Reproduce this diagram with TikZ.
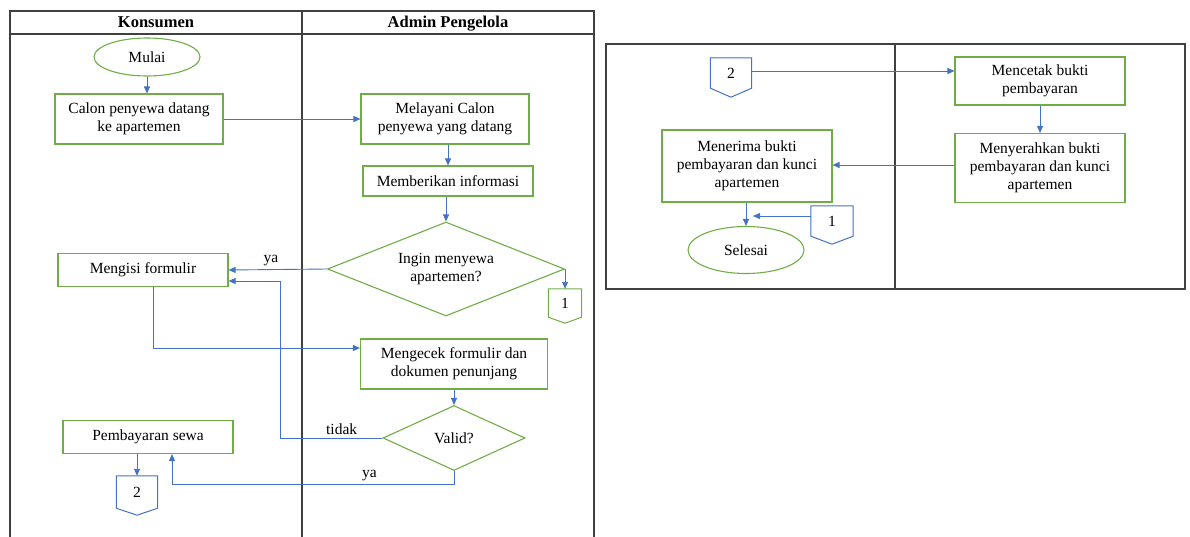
\documentclass[tikz,border=0pt]{standalone}
\usepackage{fontspec}
\setmainfont{Liberation Serif}
\usepackage{tikz}
\usetikzlibrary{calc}
\usetikzlibrary{arrows.meta}
\usetikzlibrary{shapes.geometric}

\definecolor{boxgreen}{RGB}{112,173,71}
\definecolor{arrowblue}{RGB}{68,114,196}
\definecolor{framegray}{RGB}{64,64,64}

\tikzset{
	lane/.style = {draw = framegray, line width = 1.3pt},
	head/.style = {inner sep = 0pt, anchor = base, font = \fontsize{16.5}{18}\selectfont\bfseries},
	proc/.style = {draw = boxgreen, line width = 1.1pt, align = center, inner sep = 0pt, font = \fontsize{15.5}{18}\selectfont},
	term/.style = {proc, shape = ellipse},
	decide/.style = {proc, shape = diamond},
	offpage/.style = {inner sep = 0pt, font = \fontsize{15.5}{18}\selectfont},
	flow/.style = {draw = arrowblue, line width = 0.9pt, -{Triangle[length = 7pt, width = 6pt]}},
	lbl/.style = {font = \fontsize{15.5}{18}\selectfont, inner sep = 0pt}
}

% off-page connector: box part is the node, point below
\newcommand{\drawoffpage}[3]{\draw[#2, line width = 1pt] (#1.north west)--(#1.north east)--(#1.south east)--($(#1.south)+(0, #3)$)--(#1.south west)--cycle;}

\begin{document}
\begin{tikzpicture}[x = 1pt, y = -1pt]
				\useasboundingbox (0, 0) rectangle (1190, 537);

				% left frame
				\draw[lane] (10, 540)--(10, 11)--(594, 11)--(594, 540);
				\draw[lane] (10, 34)--(594, 34);
				\draw[lane] (302, 11)--(302, 540);
				\node[head] (hkons) at (156, 28){Konsumen};
				\node[head] (hadmin) at (448, 28){Admin Pengelola};

				% right frame
				\draw[lane] (606, 44) rectangle (1185, 289);
				\draw[lane] (895, 44)--(895, 289);

				% left part nodes
				\node[term, minimum width = 106, minimum height = 38] (mulai) at (147, 57){Mulai};
				\node[proc, minimum width = 168, minimum height = 50] (calon) at (139, 119){Calon penyewa datang\\ke apartemen};
				\node[proc, minimum width = 168, minimum height = 50] (melayani) at (445, 119){Melayani Calon\\penyewa yang datang};
				\node[proc, minimum width = 170, minimum height = 30] (informasi) at (448, 181){Memberikan informasi};
				\node[decide, aspect = 2.5, minimum width = 237, minimum height = 94] (ingin) at (446, 269){Ingin menyewa\\apartemen?};
				\node[proc, minimum width = 170, minimum height = 33] (mengisi) at (143, 270){Mengisi formulir};
				\node[offpage, minimum width = 33, minimum height = 28] (c1a) at (565, 303){1};
				\node[proc, minimum width = 187, minimum height = 50] (mengecek) at (454, 364){Mengecek formulir dan\\dokumen penunjang};
				\node[decide, aspect = 2.2, minimum width = 142, minimum height = 65] (valid) at (454, 438){Valid?};
				\node[proc, minimum width = 170, minimum height = 33] (pembayaran) at (148, 437){Pembayaran sewa};
				\node[offpage, minimum width = 41, minimum height = 32] (c2a) at (137, 492){2};

				\drawoffpage{c1a}{boxgreen}{6}
				\drawoffpage{c2a}{arrowblue}{7}

				% right part nodes
				\node[offpage, minimum width = 41, minimum height = 30] (c2b) at (731, 73){2};
				\node[proc, minimum width = 170, minimum height = 48] (mencetak) at (1040, 81){Mencetak bukti\\pembayaran};
				\node[proc, minimum width = 170, minimum height = 69] (menyerahkan) at (1040, 168){Menyerahkan bukti\\pembayaran dan kunci\\apartemen};
				\node[proc, minimum width = 170, minimum height = 72] (menerima) at (747, 166){Menerima bukti\\pembayaran dan kunci\\apartemen};
				\node[term, minimum width = 116, minimum height = 47] (selesai) at (746, 250){Selesai};
				\node[offpage, minimum width = 42, minimum height = 30] (c1b) at (832, 221){1};
				\coordinate (join) at (753, 216);

				\drawoffpage{c2b}{arrowblue}{9}
				\drawoffpage{c1b}{arrowblue}{8}

				% connectors, left part
				\draw[flow] (mulai.south)--(mulai.south |- calon.north);
				\draw[flow] (calon.east)--(calon.east -| melayani.west);
				\draw[flow] (melayani.south -| informasi.north)--(informasi);
				\draw[flow] (informasi.south -| ingin.north)--(ingin);
				\draw[flow] (ingin.west)--(mengisi.east)node[lbl, pos = 0.57, above = 3pt]{ya};
				\draw[flow] (ingin.east)--(ingin.east |- c1a.north);
				\draw[flow] ($(mengisi.south)+(10, 0)$)|-($(mengecek.west)+(0, -16)$);
				\draw[flow] (mengecek.south -| valid.north)--(valid);
				\draw[flow] (valid.west)--++(-102, 0)node[lbl, pos = 0.4, above = 3pt]{tidak}|-($(mengisi.east)+(0, 11)$);
				\draw[flow] (valid.south)--++(0, 13)-|($(pembayaran.south)+(24, 0)$)node[lbl, pos = 0.15, above = 3pt]{ya};
				\draw[flow] (c2a.north |- pembayaran.south)--(c2a.north);

				% connectors, right part
				\draw[flow] ($(c2b.east)+(0, -2)$)--($(c2b.east -| mencetak.west)+(0, -2)$);
				\draw[flow] (mencetak)--(menyerahkan);
				\draw[flow] ($(menyerahkan.west)+(0, -3)$)--($(menyerahkan.west -| menerima.east)+(0, -3)$);
				\draw[flow] (menerima.south -| selesai.north)--(selesai);
				\draw[flow] (c1b.west |- join)--(join);
			\end{tikzpicture}
\end{document}
